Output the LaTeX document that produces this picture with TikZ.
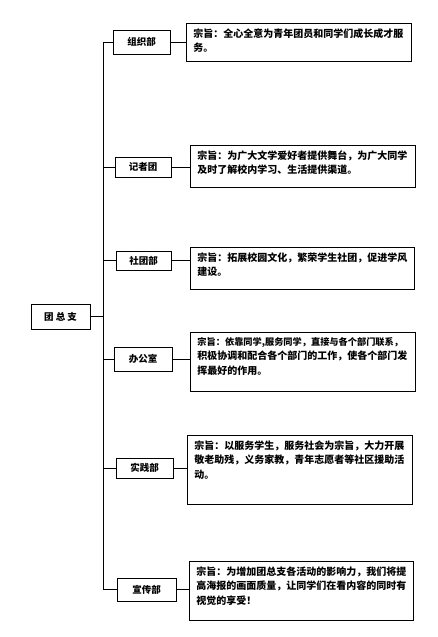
\documentclass[tikz,border=0pt]{standalone}
\usepackage{fontspec}
\newfontfamily\cjk{Noto Sans CJK SC}
\newcommand\mydesc[3]{\parbox[t][#2][t]{#1}{\raggedright #3}}
\begin{document}
\begin{tikzpicture}[x=1pt,y=-1pt,line width=0.9pt,
  dept/.style={draw, inner sep=0pt, font=\cjk\bfseries\fontsize{9.5}{12}\selectfont},
  desc/.style={draw, anchor=north west, inner xsep=7pt, inner ysep=5pt, font=\cjk\bfseries\fontsize{10}{14.5}\selectfont}]
\useasboundingbox (0,0) rectangle (437,637);
% root
\node[dept, minimum width=59pt, minimum height=25pt] (root) at (60.5,316.5) {团\ 总\ 支};
\coordinate (t) at (103,316.5);
% departments
\node[dept, minimum width=57pt, minimum height=24pt] (d1) at (141.5,42) {组织部};
\node[dept, minimum width=56pt, minimum height=20pt] (d2) at (143,167) {记者团};
\node[dept, minimum width=55pt, minimum height=19pt] (d3) at (143.5,260.5) {社团部};
\node[dept, minimum width=58pt, minimum height=24pt] (d4) at (143,359) {办公室};
\node[dept, minimum width=57pt, minimum height=20pt] (d5) at (144.5,468) {实践部};
\node[dept, minimum width=59pt, minimum height=23pt] (d6) at (146.5,589.5) {宣传部};
% descriptions
\node[desc] (e1) at (186,23) {\mydesc{211pt}{28pt}{宗旨：全心全意为青年团员和同学们成长成才服\\务。}};
\node[desc] (e2) at (190,145) {\mydesc{211pt}{32pt}{宗旨：为广大文学爱好者提供舞台，为广大同学\\及时了解校内学习、生活提供渠道。}};
\node[desc] (e3) at (190,247) {\mydesc{210pt}{32pt}{宗旨：拓展校园文化，繁荣学生社团，促进学风\\建设。}};
\node[desc] (e4) at (190,332) {\mydesc{211pt}{49pt}{{\fontsize{9.2}{14.5}\selectfont 宗旨：依靠同学,服务同学，直接与各个部门联系，}\\积极协调和配合各个部门的工作，使各个部门发\\挥最好的作用。}};
\node[desc] (e5) at (187,435) {\mydesc{211pt}{59pt}{宗旨：以服务学生，服务社会为宗旨，大力开展\\敬老助残，义务家教，青年志愿者等社区援助活\\动。}};
\node[desc] (e6) at (189,561) {\mydesc{210pt}{49pt}{宗旨：为增加团总支各活动的影响力，我们将提\\高海报的画面质量，让同学们在看内容的同时有\\视觉的享受！}};
% connectors
\draw (root.east) -- (t);
\draw (t|-d1.west) -- (t|-d6.west);
\foreach \i in {1,...,6}{
  \draw (t|-d\i.west) -- (d\i.west);
  \draw (d\i.east) -- (e\i.west|-d\i.east);
}
\end{tikzpicture}
\end{document}
